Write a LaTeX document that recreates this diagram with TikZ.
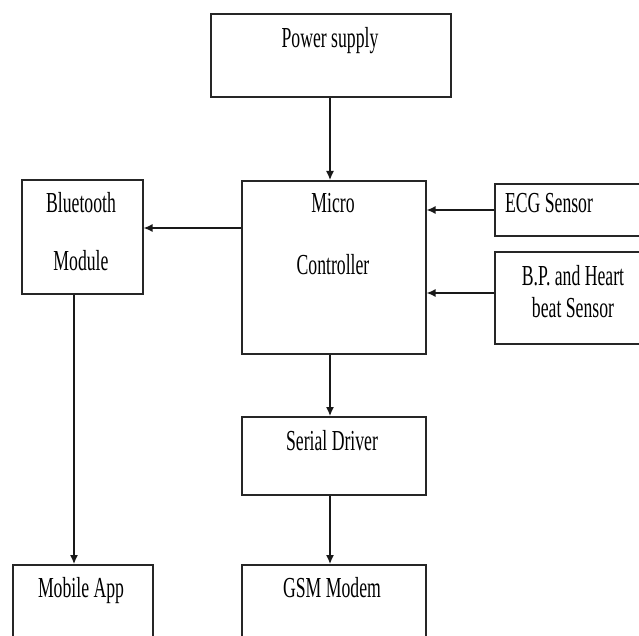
\documentclass[tikz,border=0pt]{standalone}
\usepackage{fontspec}
\setmainfont{Liberation Serif}
\usetikzlibrary{arrows.meta}
\newcommand\narrow[1]{\scalebox{0.61}[1]{#1}}
\tikzset{
  blk/.style={draw=black!85, line width=1.6pt, fill=none, anchor=north west, inner sep=0pt},
  lbl/.style={anchor=base, inner sep=0pt, font=\fontsize{29}{34}\selectfont},
  arr/.style={draw=black!90, line width=1.3pt, -{Latex[length=9pt,width=8pt]}}
}
\begin{document}
\begin{tikzpicture}[x=1pt, y=-1pt]
  \fill[white] (0,0) rectangle (639,636);
  \useasboundingbox (0,0) rectangle (639,636);
  \clip (0,0) rectangle (639,636);

  % blocks (x, y in pixels from the top left corner)
  \node[blk, minimum width=240pt, minimum height=83pt]  (ps)  at (210,13)  {};
  \node[blk, minimum width=184pt, minimum height=173pt] (mc)  at (241,180) {};
  \node[blk, minimum width=121pt, minimum height=114pt] (bt)  at (21,179)  {};
  \node[blk, minimum width=170pt, minimum height=52pt]  (ecg) at (494,183) {};
  \node[blk, minimum width=170pt, minimum height=92pt]  (bp)  at (494,251) {};
  \node[blk, minimum width=184pt, minimum height=78pt]  (sd)  at (241,416) {};
  \node[blk, minimum width=184pt, minimum height=100pt] (gsm) at (241,564) {};
  \node[blk, minimum width=140pt, minimum height=100pt] (app) at (12,564)  {};

  % labels
  \node[lbl] (tps)  at (330,48)  {\narrow{Power supply}};
  \node[lbl] (tmc1) at (333,213) {\narrow{Micro}};
  \node[lbl] (tmc2) at (333,274) {\narrow{Controller}};
  \node[lbl] (tbt1) at (81,213)  {\narrow{Bluetooth}};
  \node[lbl] (tbt2) at (81,270)  {\narrow{Module}};
  \node[lbl] (tecg) at (549,213) {\narrow{ECG Sensor}};
  \node[lbl] (tbp1) at (573,285) {\narrow{B.P. and Heart}};
  \node[lbl] (tbp2) at (573,317) {\narrow{beat Sensor}};
  \node[lbl] (tsd)  at (332,450) {\narrow{Serial Driver}};
  \node[lbl] (tgsm) at (332,597) {\narrow{GSM Modem}};
  \node[lbl] (tapp) at (81,597)  {\narrow{Mobile App}};

  % connectors
  \coordinate (px) at (330,0);
  \coordinate (bx) at (74,0);
  \draw[arr] (ps.south -| px) -- (mc.north -| px);
  \draw[arr] (mc.west |- 0,228) -- (bt.east |- 0,228);
  \draw[arr] (ecg.west |- 0,210) -- (mc.east |- 0,210);
  \draw[arr] (bp.west |- 0,293) -- (mc.east |- 0,293);
  \draw[arr] (mc.south -| px) -- (sd.north -| px);
  \draw[arr] (sd.south -| px) -- (gsm.north -| px);
  \draw[arr] (bt.south -| bx) -- (app.north -| bx);
\end{tikzpicture}
\end{document}
